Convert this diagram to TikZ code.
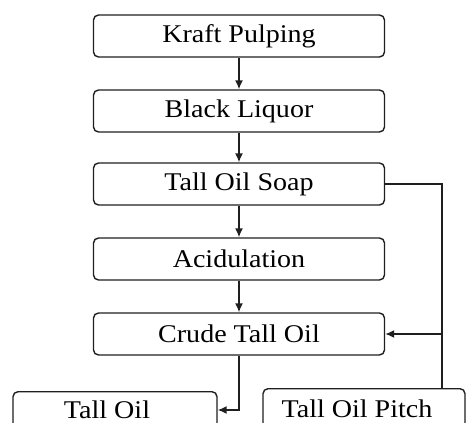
\documentclass[tikz,border=0pt]{standalone}
\usepackage{fontspec}
\setmainfont{Liberation Serif}[FakeStretch=1.1]
\usetikzlibrary{arrows.meta}
\begin{document}
\begin{tikzpicture}[x=1pt,y=-1pt,
  box/.style={draw=black!88, line width=1.4pt, rounded corners=5pt,
    minimum width=291pt, minimum height=42pt, inner sep=0pt,
    font=\fontsize{25.5}{30}\selectfont},
  lowbox/.style={box, minimum height=0pt, text height=17pt, text depth=40pt, anchor=north},
  link/.style={draw=black!88, line width=1.5pt},
  flow/.style={link, -{Latex[length=9pt,width=8pt]}},
  ]
\useasboundingbox (0,0) rectangle (466,423);
\clip (0,0) rectangle (466,423);
\node[box] (kraft) at (239,36) {Kraft Pulping};
\node[box] (black) at (239,111) {Black Liquor};
\node[box] (soap) at (239,184) {Tall Oil Soap};
\node[box] (acid) at (239,259) {Acidulation};
\node[box] (crude) at (239,334) {Crude Tall Oil};
\node[lowbox, minimum width=204pt, inner ysep=10pt] (tall) at (115,391) {Tall Oil\kern16pt};
\node[lowbox, minimum width=202pt, inner ysep=11.5pt] (pitch) at (364,388) {Tall Oil Pitch\kern14pt};
\draw[flow] (kraft) -- (black);
\draw[flow] (black) -- (soap);
\draw[flow] (soap) -- (acid);
\draw[flow] (acid) -- (crude);
\draw[flow] (crude.south) -- (crude.south |- 0,410) -- (tall.east |- 0,410);
\draw[link] (pitch.north -| 442,0) |- (soap.east);
\draw[flow] (crude.east -| 442,0) -- (crude.east);
\end{tikzpicture}
\end{document}
